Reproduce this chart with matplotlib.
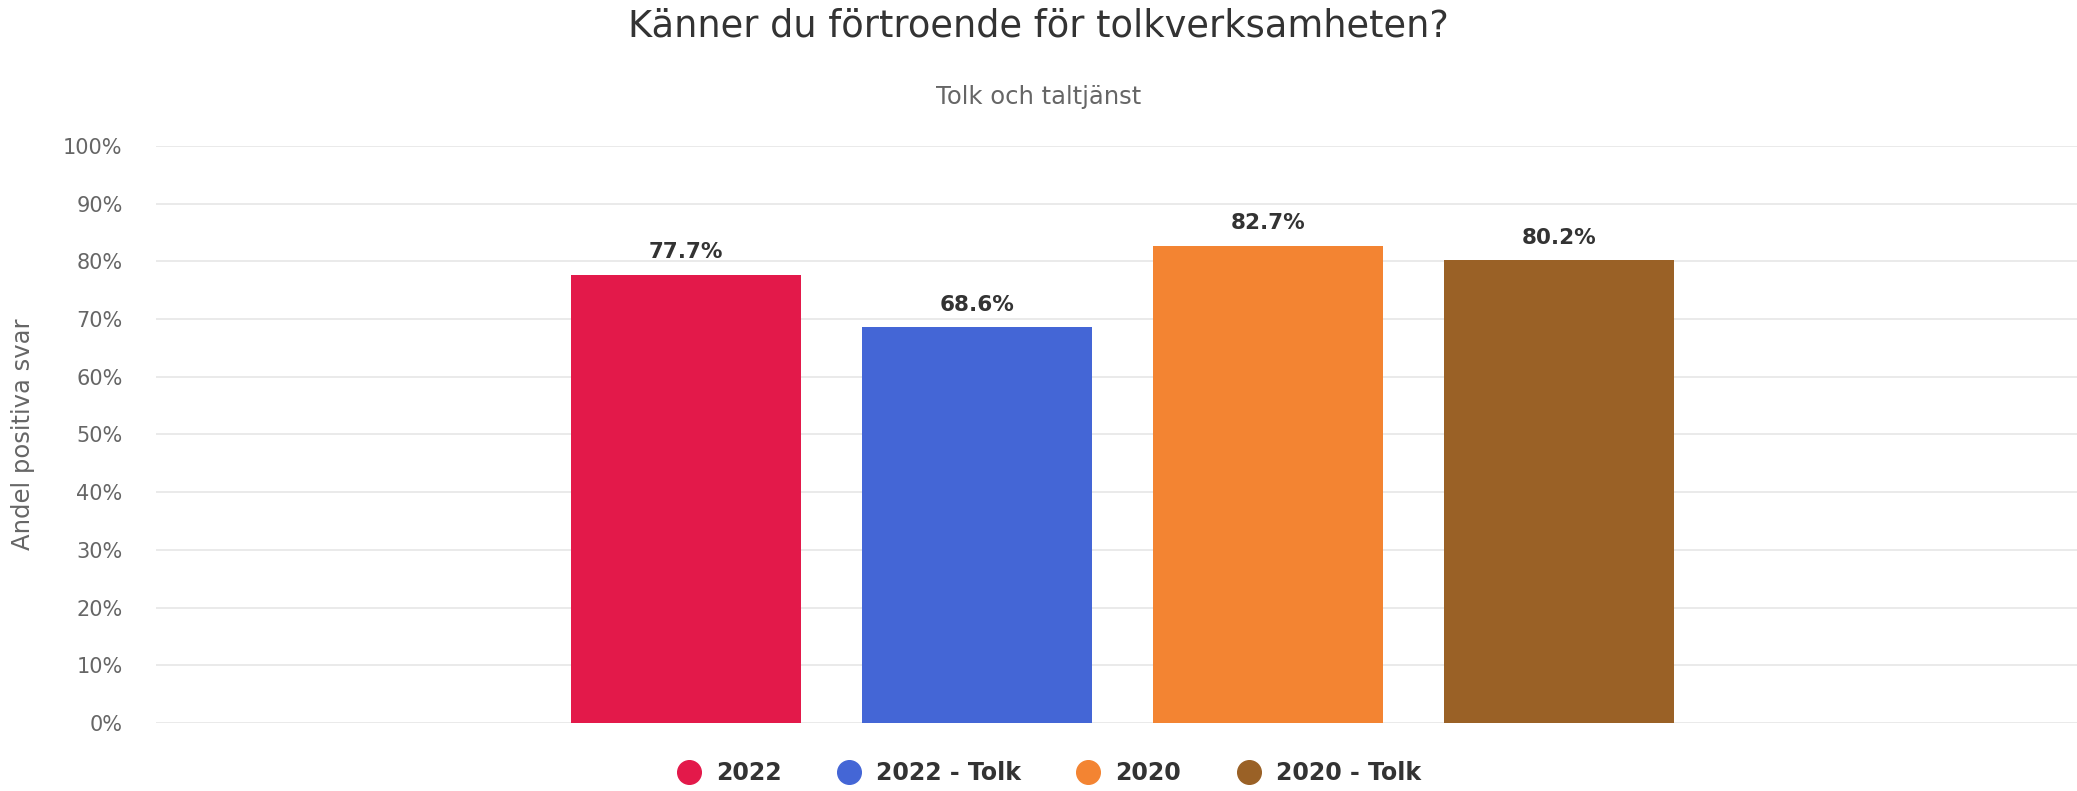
import matplotlib.pyplot as plt
from matplotlib.lines import Line2D

# Data
series = ["2022", "2022 - Tolk", "2020", "2020 - Tolk"]
values = [77.7, 68.6, 82.7, 80.2]
colors = ["#E3194A", "#4466D6", "#F38432", "#9A6126"]
y_ticks = [0, 10, 20, 30, 40, 50, 60, 70, 80, 90, 100]

fig = plt.figure(figsize=(20.77, 7.91), dpi=100)
fig.patch.set_facecolor("white")
ax = fig.add_axes([0.0751, 0.086, 0.9249, 0.7294])

x = list(range(len(series)))
ax.bar(x, values, width=0.79, color=colors, zorder=3)

for xi, v in zip(x, values):
    ax.annotate(f"{v}%", (xi, v), xytext=(0, 9), textcoords="offset points",
                ha="center", va="bottom", fontsize=15.5, fontweight="bold", color="#333333")

ax.set_xlim(-1.82, 4.78)
ax.set_ylim(0, 100)
ax.set_yticks(y_ticks)
ax.set_yticklabels([f"{t}%" for t in y_ticks], fontsize=15, color="#666666")
ax.set_xticks([])
ax.tick_params(axis="y", length=0, pad=24)
ax.grid(axis="y", color="#e6e6e6", linewidth=1.2, zorder=0)
for s in ax.spines.values():
    s.set_visible(False)
ax.set_ylabel("Andel positiva svar", fontsize=17.5, color="#666666")
ax.yaxis.set_label_coords(-0.063, 0.5)

fig.text(0.5, 1 - 26 / 791, "Känner du förtroende för tolkverksamheten?",
         ha="center", va="center", fontsize=26.5, color="#333333")
fig.text(0.5, 1 - 97 / 791, "Tolk och taltjänst",
         ha="center", va="center", fontsize=17.5, color="#666666")

handles = [Line2D([], [], marker="o", linestyle="", markersize=17,
                  markerfacecolor=c, markeredgecolor=c) for c in colors]
fig.legend(handles, series, loc="center", bbox_to_anchor=(1049 / 2077, 1 - 773 / 791),
           ncol=4, frameon=False, handlelength=1.0, handletextpad=0.65, columnspacing=2.35,
           prop={"size": 17, "weight": "bold"}, labelcolor="#333333")

fig.savefig("out.png", dpi=100, facecolor=fig.get_facecolor())
